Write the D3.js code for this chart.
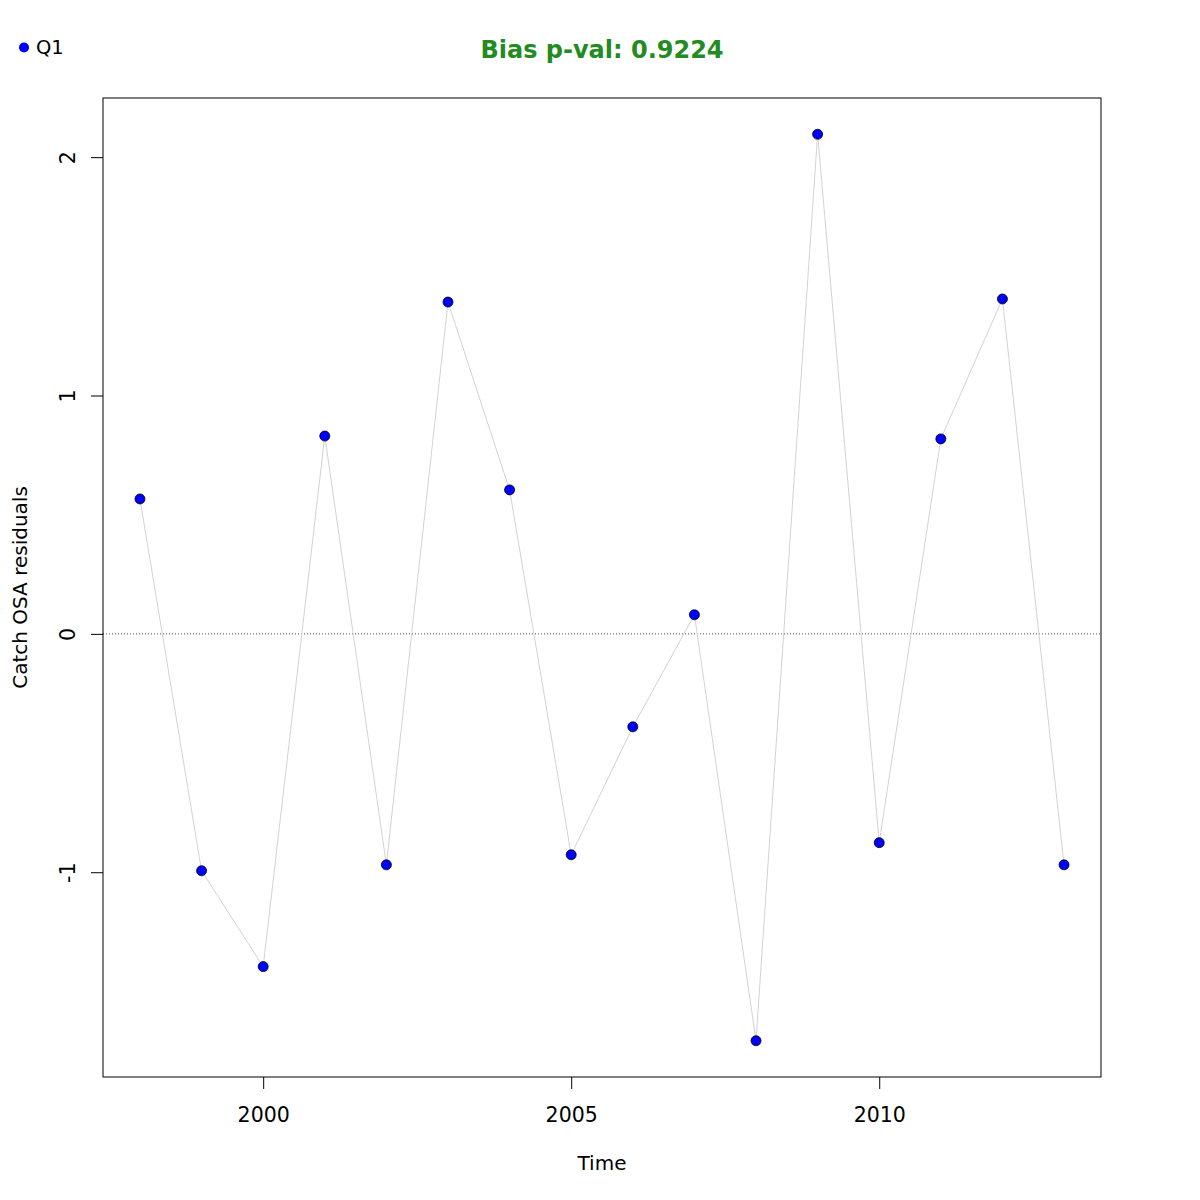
<!DOCTYPE html>
<html><head><meta charset="utf-8">
<script src="https://cdn.jsdelivr.net/npm/d3@7"></script>
<style>body{margin:0;background:#fff}svg{display:block;font-family:"DejaVu Sans",sans-serif}</style>
</head><body>
<script>
const years = [1998,1999,2000,2001,2002,2003,2004,2005,2006,2007,2008,2009,2010,2011,2012,2013];
const residuals = [0.566,-0.994,-1.396,0.830,-0.969,1.392,0.604,-0.927,-0.390,0.080,-1.707,2.096,-0.876,0.818,1.405,-0.969];
const xTicks = [2000,2005,2010];
const yTicks = [-1,0,1,2];
const titleText = "Bias p-val: 0.9224";
const seriesName = "Q1";

const W=1200,H=1200, L=103,R=1101,T=98,B=1077;
const svg=d3.select("body").append("svg").attr("width",W).attr("height",H);
const xr=d3.extent(years), yr=d3.extent(residuals);
const xp=(xr[1]-xr[0])*0.04, yp=(yr[1]-yr[0])*0.04;
const x=d3.scaleLinear().domain([xr[0]-xp,xr[1]+xp]).range([L,R]);
const y=d3.scaleLinear().domain([yr[0]-yp,yr[1]+yp]).range([B,T]);

// zero line
svg.append("line").attr("x1",L).attr("x2",R).attr("y1",y(0)).attr("y2",y(0))
  .attr("stroke","#555").attr("stroke-width",1).attr("stroke-dasharray","1,2");

// connecting line
svg.append("path").datum(years.map((d,i)=>[d,residuals[i]]))
  .attr("d",d3.line().x(d=>x(d[0])).y(d=>y(d[1])))
  .attr("fill","none").attr("stroke","#d3d3d3").attr("stroke-width",1);

svg.selectAll("circle.pt").data(years).join("circle").attr("class","pt")
  .attr("cx",d=>x(d)).attr("cy",(d,i)=>y(residuals[i])).attr("r",5)
  .attr("fill","#0000ff").attr("stroke","#000").attr("stroke-width",0.8);

// box
svg.append("rect").attr("x",L).attr("y",T).attr("width",R-L).attr("height",B-T)
  .attr("fill","none").attr("stroke","#000").attr("stroke-width",1);

// x axis
const xa=svg.append("g").attr("transform",`translate(0,${B})`)
  .call(d3.axisBottom(x).tickValues(xTicks).tickFormat(d=>String(d)).tickSize(12).tickSizeOuter(0).tickPadding(18));
xa.select(".domain").remove();
xa.selectAll("text").attr("font-size",20.5).attr("font-family","DejaVu Sans").attr("fill","#000");
xa.selectAll("line").attr("stroke","#000");

// y axis
const ya=svg.append("g").attr("transform",`translate(${L},0)`)
  .call(d3.axisLeft(y).tickValues(yTicks).tickFormat(d=>String(d)).tickSize(12).tickSizeOuter(0));
ya.select(".domain").remove();
ya.selectAll("line").attr("stroke","#000");
ya.selectAll("text").attr("font-size",20.5).attr("font-family","DejaVu Sans").attr("fill","#000")
  .attr("x",null).attr("dy",null).attr("text-anchor","middle")
  .attr("transform","translate(-28,0) rotate(-90)");

svg.append("text").attr("x",(L+R)/2).attr("y",1170).attr("text-anchor","middle")
  .attr("font-size",20).text("Time");
svg.append("text").attr("transform",`translate(27,${(T+B)/2}) rotate(-90)`).attr("text-anchor","middle")
  .attr("font-size",20).text("Catch OSA residuals");

svg.append("text").attr("x",(L+R)/2).attr("y",58).attr("text-anchor","middle")
  .attr("font-size",24).attr("font-weight","bold").attr("fill","#228b22").text(titleText);

svg.append("circle").attr("cx",24).attr("cy",47.5).attr("r",5).attr("fill","#0000ff");
svg.append("text").attr("x",36).attr("y",54).attr("font-size",19.5).text(seriesName);
</script>
</body></html>
